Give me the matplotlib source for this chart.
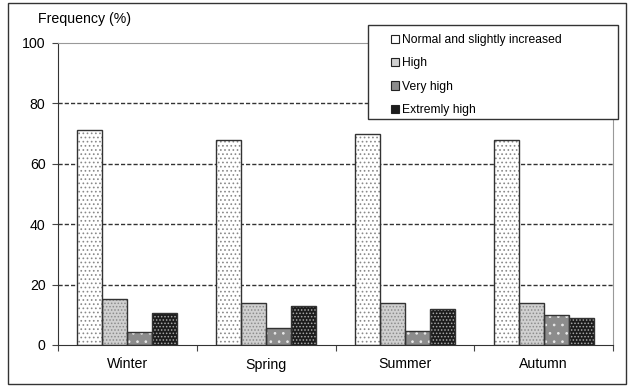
""" Frequency of levels by season """

import numpy as np
import matplotlib.pyplot as plt
from matplotlib.patches import Patch, Rectangle

plt.rcParams['font.family'] = ['Liberation Sans', 'DejaVu Sans']
plt.rcParams['hatch.linewidth'] = 0.7

# Data
seasons = ['Winter', 'Spring', 'Summer', 'Autumn']
levels = ['Normal and slightly increased', 'High', 'Very high', 'Extremly high']
normal = [71.2, 67.9, 69.8, 68.0]
high = [15.2, 14.0, 14.0, 14.0]
very_high = [4.3, 5.6, 4.7, 9.9]
extreme = [10.6, 13.0, 11.8, 8.8]
yticks = [0, 20, 40, 60, 80, 100]

series = [normal, high, very_high, extreme]
# face colour, hatch colour, hatch pattern
styles = [
    ('white', '#8a8a8a', '....'),
    ('#d0d0d0', '#8c8c8c', '.....'),
    ('#8c8c8c', '#e8e8e8', '..'),
    ('#1c1c1c', '#a8a8a8', '.....'),
]

fig = plt.figure(figsize=(6.29, 3.86), dpi=100)
ax = fig.add_axes([58 / 629, 1 - 345 / 386, 555 / 629, 302 / 386])

x = np.arange(len(seasons)) + 0.5
w = 0.18
for i, (vals, (fc, hc, hatch)) in enumerate(zip(series, styles)):
    pos = x - 1.5 * w + i * w
    ax.bar(pos, vals, w, color=fc, edgecolor=hc, hatch=hatch, linewidth=0, zorder=2)
    ax.bar(pos, vals, w, fill=False, edgecolor='#333333', linewidth=1.0, zorder=3)

ax.set_xlim(0, 4)
ax.set_ylim(0, 100)
ax.set_yticks(yticks)
ax.set_xticks([0, 1, 2, 3, 4])
ax.set_xticklabels([])
ax.set_xticks(x, minor=True)
ax.set_xticklabels(seasons, minor=True, fontsize=10.2)
ax.tick_params(axis='x', which='minor', length=0, pad=9)
ax.tick_params(axis='x', which='major', length=4, direction='out', color='#444444')
ax.tick_params(axis='y', length=4, direction='out', labelsize=10.2, pad=5, color='#444444')

for yv in yticks[1:-1]:
    ax.axhline(yv, color='#333333', linestyle=(0, (3, 1.5)), linewidth=1.0, zorder=1)

ax.spines['left'].set_color('#333333')
ax.spines['bottom'].set_color('#333333')
ax.spines['top'].set_color('#999999')
ax.spines['right'].set_color('#999999')

fig.text(38 / 629, 1 - 19.5 / 386, 'Frequency (%)', fontsize=10.2, va='center', ha='left')

# legend box
fig.add_artist(Rectangle((368 / 629, 1 - 119 / 386), 250 / 629, 94 / 386,
                         transform=fig.transFigure, facecolor='white',
                         edgecolor='#333333', linewidth=1.0, zorder=4))
handles = [Patch(facecolor=fc, edgecolor='#222222', linewidth=0.8) for fc, hc, h in styles]
leg = fig.legend(handles, levels, loc='upper left', bbox_to_anchor=(391 / 629, 1 - 34 / 386),
                 frameon=False, fontsize=8.7, handlelength=0.7, handleheight=0.7,
                 handletextpad=0.2, labelspacing=0.94, borderaxespad=0, borderpad=0)
leg.set_zorder(5)

# outer frame
fig.add_artist(Rectangle((8 / 629, 2 / 386), 618 / 629, 381 / 386,
                         transform=fig.transFigure, fill=False,
                         edgecolor='#333333', linewidth=1.0))

plt.savefig('out.png', dpi=100)
